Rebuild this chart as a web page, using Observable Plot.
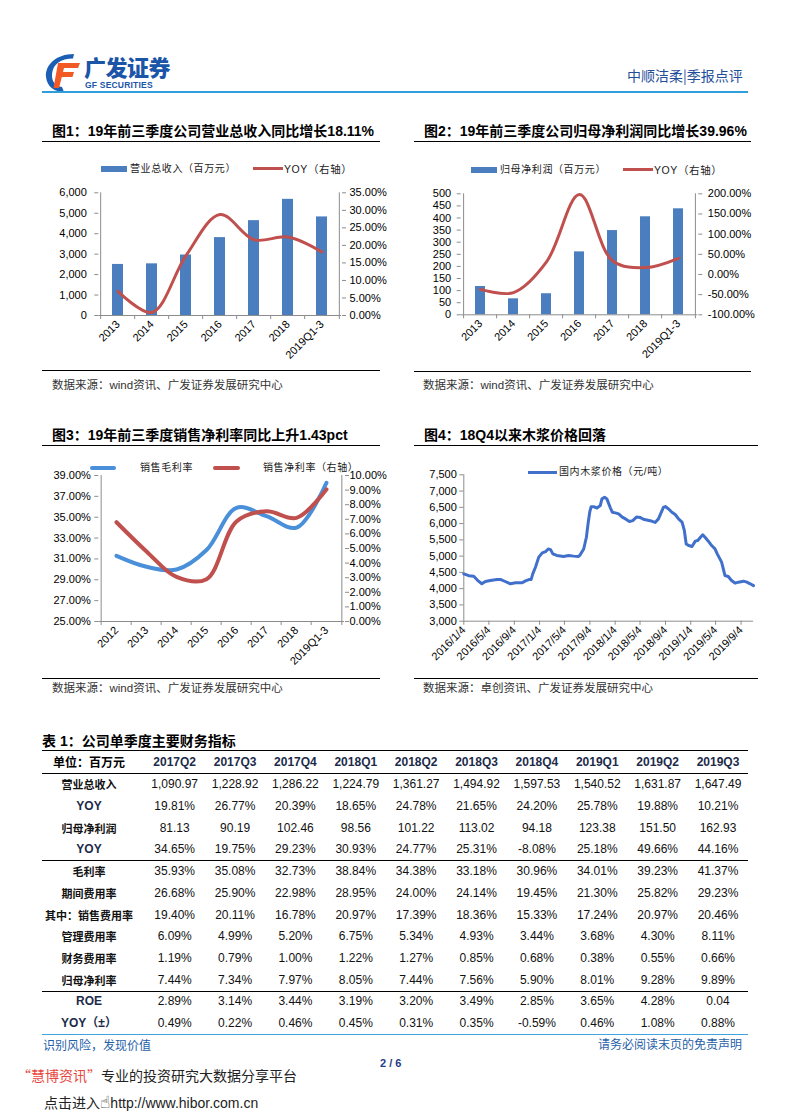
<!DOCTYPE html>
<html><head><meta charset="utf-8">
<script src="https://cdn.jsdelivr.net/npm/d3@7"></script>
<script src="https://cdn.jsdelivr.net/npm/@observablehq/plot@0.6"></script>
<style>
body{margin:0;background:#fff;}
#page{position:relative;width:792px;height:1120px;overflow:hidden;background:#fff;font-family:"Liberation Sans","Noto Sans CJK SC",sans-serif;}
.abs{position:absolute;white-space:nowrap;}
.ttl{font-size:14px;font-weight:bold;color:#000;line-height:16px;font-family:"Liberation Sans","Noto Sans CJK SC",sans-serif;}
.hr{position:absolute;height:0;border-top:1.3px solid #000;}
.src{font-size:11.5px;color:#333;line-height:14px;font-family:"Liberation Sans","Noto Sans CJK SC",sans-serif;}
.lg{font-size:10px;color:#222;line-height:12px;letter-spacing:0.6px;font-family:"Liberation Sans","Noto Sans CJK SC",sans-serif;}
.cell{position:absolute;white-space:nowrap;text-align:center;font-size:12px;line-height:20px;height:20px;color:#111;font-family:"Liberation Sans",Arial,sans-serif;}
.lab{font-weight:bold;font-size:11px;font-family:"Noto Sans CJK SC",sans-serif;color:#111;}
.latinlab{font-weight:bold;font-size:12px;color:#1c2b4a;font-family:"Liberation Sans","Noto Sans CJK SC",sans-serif;}
.hd{font-weight:bold;color:#1c2b4a;}
</style>
</head><body>
<div id="page"></div>
<script>
// ---------------- DATA ----------------
const years1 = ["2013","2014","2015","2016","2017","2018","2019Q1-3"];
const revenue = [2497, 2526, 2958, 3809, 4638, 5680, 4820];
const revenueYoy = [6.9, 0.9, 17.1, 28.8, 21.6, 22.4, 18.11];
const revTicks = [0, 1000, 2000, 3000, 4000, 5000, 6000];
const revYoyTicks = [0, 5, 10, 15, 20, 25, 30, 35];

const profit = [117, 66, 87, 260, 348, 405, 438];
const profitYoy = [-37, -45, 31, 198, 34, 17, 40];
const profitTicks = [0, 50, 100, 150, 200, 250, 300, 350, 400, 450, 500];
const profitYoyTicks = [-100, -50, 0, 50, 100, 150, 200];

const years3 = ["2012","2013","2014","2015","2016","2017","2018","2019Q1-3"];
const grossMargin = [31.3, 30.25, 29.98, 31.85, 35.9, 35.1, 34.0, 38.3];
const netMargin = [6.8, 4.8, 3.05, 2.9, 6.85, 7.55, 7.1, 9.05];
const gmTicks = [25, 27, 29, 31, 33, 35, 37, 39];
const nmTicks = [0, 1, 2, 3, 4, 5, 6, 7, 8, 9, 10];

const pulpDates = ["2016-01-04","2016-01-28","2016-02-21","2016-03-15","2016-03-31","2016-04-17","2016-05-11","2016-06-12","2016-07-01","2016-07-22","2016-08-16","2016-09-10","2016-10-12","2016-10-28","2016-11-13","2016-11-24","2016-12-02","2016-12-15","2016-12-31",
"2017-01-17","2017-02-02","2017-02-15","2017-02-26","2017-03-09","2017-03-28","2017-04-30","2017-05-24","2017-06-17","2017-07-11","2017-07-19","2017-08-05","2017-08-18","2017-08-26","2017-09-03","2017-09-10","2017-09-22","2017-10-08","2017-10-24","2017-11-01","2017-11-14","2017-11-25","2017-12-12","2017-12-21",
"2018-01-05","2018-01-21","2018-02-07","2018-02-23","2018-03-14","2018-03-30","2018-04-18","2018-05-04","2018-05-20","2018-06-22","2018-07-16","2018-08-01","2018-08-25","2018-09-03","2018-09-19","2018-10-05","2018-10-21","2018-11-06","2018-11-23","2018-12-04","2018-12-13","2018-12-25",
"2019-01-10","2019-01-26","2019-02-07","2019-02-20","2019-03-03","2019-03-14","2019-03-30","2019-04-15","2019-05-01","2019-05-12","2019-06-02","2019-06-18","2019-07-04","2019-07-20","2019-08-06","2019-08-22","2019-09-16","2019-10-02","2019-10-18","2019-11-03"];
const pulpPrice = [4455,4400,4380,4230,4150,4220,4250,4280,4280,4220,4150,4180,4180,4240,4280,4280,4455,4660,4970,
5100,5140,5220,5200,5070,5020,4990,5020,5000,4990,5040,5220,5580,5990,6350,6520,6520,6480,6555,6760,6810,6760,6480,6350,
6330,6300,6200,6145,6065,6090,6205,6190,6135,6090,6035,6145,6500,6525,6450,6350,6280,6145,6045,5790,5375,5325,
5295,5460,5480,5580,5655,5580,5460,5325,5225,5070,4815,4405,4375,4250,4170,4200,4230,4200,4150,4095];
const pulpTicks = ["2016-01-04","2016-05-04","2016-09-04","2017-01-04","2017-05-04","2017-09-04","2018-01-04","2018-05-04","2018-09-04","2019-01-04","2019-05-04","2019-09-04"];
const pulpDomain = ["2016-01-04","2019-11-03"];
const pulpYTicks = [3000,3500,4000,4500,5000,5500,6000,6500,7000,7500];

const tableCols = ["2017Q2","2017Q3","2017Q4","2018Q1","2018Q2","2018Q3","2018Q4","2019Q1","2019Q2","2019Q3"];
const rowLabels = ["营业总收入","YOY","归母净利润","YOY","毛利率","期间费用率","其中：销售费用率","管理费用率","财务费用率","归母净利率","ROE","YOY（±）"];
const rowValues = [
 ["1,090.97","1,228.92","1,286.22","1,224.79","1,361.27","1,494.92","1,597.53","1,540.52","1,631.87","1,647.49"],
 ["19.81%","26.77%","20.39%","18.65%","24.78%","21.65%","24.20%","25.78%","19.88%","10.21%"],
 ["81.13","90.19","102.46","98.56","101.22","113.02","94.18","123.38","151.50","162.93"],
 ["34.65%","19.75%","29.23%","30.93%","24.77%","25.31%","-8.08%","25.18%","49.66%","44.16%"],
 ["35.93%","35.08%","32.73%","38.84%","34.38%","33.18%","30.96%","34.01%","39.23%","41.37%"],
 ["26.68%","25.90%","22.98%","28.95%","24.00%","24.14%","19.45%","21.30%","25.82%","29.23%"],
 ["19.40%","20.11%","16.78%","20.97%","17.39%","18.36%","15.33%","17.24%","20.97%","20.46%"],
 ["6.09%","4.99%","5.20%","6.75%","5.34%","4.93%","3.44%","3.68%","4.30%","8.11%"],
 ["1.19%","0.79%","1.00%","1.22%","1.27%","0.85%","0.68%","0.38%","0.55%","0.66%"],
 ["7.44%","7.34%","7.97%","8.05%","7.44%","7.56%","5.90%","8.01%","9.28%","9.89%"],
 ["2.89%","3.14%","3.44%","3.19%","3.20%","3.49%","2.85%","3.65%","4.28%","0.04"],
 ["0.49%","0.22%","0.46%","0.45%","0.31%","0.35%","-0.59%","0.46%","1.08%","0.88%"]
];

// ---------------- HELPERS ----------------
const page = document.getElementById("page");
function el(html, css, cls) {
  const d = document.createElement("div");
  d.className = "abs " + (cls || "");
  d.innerHTML = html;
  Object.assign(d.style, css);
  page.appendChild(d);
  return d;
}
function place(node, left, top) {
  const d = el("", {left: left + "px", top: top + "px"});
  d.appendChild(node);
}
const axisColor = "#8c8c8c";
const barColor = "#4a7ebf";
const redColor = "#c0504d";
const plotStyle = {fontFamily: "'Liberation Sans', Arial, sans-serif", fontSize: "11px", color: "#000", background: "transparent", overflow: "visible"};
const pct = v => v.toFixed(2) + "%";

function comboChart(o) {
  const n = o.cats.length;
  const step = (o.width - o.ml - o.mr) / n;
  const [l0, l1] = o.yDomain, [r0, r1] = o.rDomain;
  const toL = v => l0 + (v - r0) * (l1 - l0) / (r1 - r0);
  const fromL = v => r0 + (v - l0) * (r1 - r0) / (l1 - l0);
  const barData = o.cats.map((c, i) => ({c, v: o.bars[i]}));
  const lineData = o.cats.map((c, i) => ({c, v: toL(o.line[i])}));
  const pi = 1 - o.barFrac;
  return Plot.plot({
    width: o.width, height: o.height, marginLeft: o.ml, marginRight: o.mr, marginTop: o.mt, marginBottom: o.mb,
    style: plotStyle,
    x: {type: "band", domain: o.cats, paddingInner: pi, paddingOuter: pi / 2},
    y: {domain: o.yDomain},
    marks: [
      Plot.barY(barData, {x: "c", y: "v", fill: barColor}),
      Plot.ruleY([l0], {stroke: axisColor}),
      Plot.ruleX([o.cats[0]], {x: d => d, dx: -step / 2, stroke: axisColor}),
      Plot.ruleX([o.cats[n - 1]], {x: d => d, dx: step / 2, stroke: axisColor}),
      Plot.ruleX(o.cats, {x: d => d, y1: l0, y2: l0, insetBottom: -4, dx: -step / 2, stroke: axisColor}),
      Plot.ruleX([o.cats[n - 1]], {x: d => d, y1: l0, y2: l0, insetBottom: -4, dx: step / 2, stroke: axisColor}),
      Plot.line(lineData, {x: "c", y: "v", stroke: redColor, strokeWidth: 3, curve: "catmull-rom"}),
      Plot.axisY(o.yTicks, {anchor: "left", tickSize: 4, tickPadding: o.lPad, tickFormat: o.yFmt, label: null, stroke: axisColor}),
      Plot.axisY(o.rTicks.map(toL), {anchor: "right", tickSize: 4, tickPadding: o.rPad, tickFormat: v => o.rFmt(fromL(v)), label: null, stroke: axisColor}),
      Plot.axisX({tickRotate: -45, tickSize: 0, tickPadding: 7, label: null})
    ]
  });
}

// ---------------- HEADER ----------------
el(`<svg width="40" height="42" viewBox="0 0 40 42">
  <path d="M31 2 C 13 2, 2 13, 3 25 C 4 35, 12 40, 21 40 L 19 35 C 12 34, 8.5 29, 9 22 C 10 12, 18 6.5, 30 6.5 Z" fill="#1b5fb5"/>
  <path d="M15 11 H 37 L 35 16 H 21 L 20 20 H 31 L 29.5 25 H 18.8 L 16 36 H 10.5 Z" fill="#f15a24"/>
</svg>`, {left: "43px", top: "52px"});
el("广发证券", {left: "84px", top: "53px", fontSize: "22px", fontWeight: "900", color: "#1b55a8", letterSpacing: "-0.5px", fontFamily: "'Noto Sans CJK SC'", lineHeight: "26px"});
el("GF SECURITIES", {left: "85px", top: "80px", fontSize: "8.5px", fontWeight: "bold", color: "#1b55a8", fontFamily: "'Liberation Sans'", lineHeight: "10px", letterSpacing: "0.2px"});
el("中顺洁柔|季报点评", {left: "627px", top: "66px", fontSize: "14px", color: "#1f4e9a", fontFamily: "'Noto Sans CJK SC'", lineHeight: "18px"});
el("", {left: "42px", top: "90.5px", width: "706px", height: "2px", background: "#2f9fdb"});

// ---------------- TITLES / SOURCES ----------------
el("图1：19年前三季度公司营业总收入同比增长18.11%", {left: "52px", top: "123px"}, "ttl");
el("", {left: "42px", top: "140.5px", width: "338px"}, "hr");
el("图2：19年前三季度公司归母净利润同比增长39.96%", {left: "424px", top: "123px"}, "ttl");
el("", {left: "414px", top: "140.5px", width: "337px"}, "hr");
el("", {left: "42px", top: "370px", width: "338px"}, "hr");
el("", {left: "414px", top: "370.5px", width: "337px"}, "hr");
el("数据来源：wind资讯、广发证券发展研究中心", {left: "52px", top: "378px"}, "src");
el("数据来源：wind资讯、广发证券发展研究中心", {left: "423px", top: "378px"}, "src");

el("图3：19年前三季度销售净利率同比上升1.43pct", {left: "52px", top: "427px"}, "ttl");
el("", {left: "42px", top: "444.5px", width: "338px"}, "hr");
el("图4：18Q4以来木浆价格回落", {left: "424px", top: "427px"}, "ttl");
el("", {left: "414px", top: "444.5px", width: "344px"}, "hr");
el("", {left: "42px", top: "678px", width: "338px"}, "hr");
el("", {left: "414px", top: "678px", width: "344px"}, "hr");
el("数据来源：wind资讯、广发证券发展研究中心", {left: "52px", top: "681px"}, "src");
el("数据来源：卓创资讯、广发证券发展研究中心", {left: "423px", top: "681px"}, "src");

// ---------------- LEGENDS ----------------
el("", {left: "101px", top: "165.5px", width: "26px", height: "6px", background: barColor});
el("营业总收入（百万元）", {left: "130px", top: "162.5px"}, "lg");
el("", {left: "253px", top: "167px", width: "30px", height: "3px", background: redColor});
el("YOY（右轴）", {left: "284px", top: "162.5px", fontSize: "10.5px"}, "lg");

el("", {left: "471px", top: "166.5px", width: "26px", height: "6px", background: barColor});
el("归母净利润（百万元）", {left: "500px", top: "163.5px"}, "lg");
el("", {left: "623px", top: "168px", width: "30px", height: "3px", background: redColor});
el("YOY（右轴）", {left: "654px", top: "163.5px", fontSize: "10.5px"}, "lg");

el("", {left: "90px", top: "466px", width: "26px", height: "4px", background: "#4a8fd9", borderRadius: "2px"});
el("销售毛利率", {left: "140px", top: "462px"}, "lg");
el("", {left: "213px", top: "466px", width: "27px", height: "4px", background: redColor, borderRadius: "2px"});
el("销售净利率（右轴）", {left: "263px", top: "462px"}, "lg");

el("", {left: "528px", top: "470.5px", width: "29px", height: "3px", background: "#4170cc"});
el("国内木浆价格（元/吨）", {left: "559px", top: "466px"}, "lg");

// ---------------- CHART 1 ----------------
place(comboChart({
  cats: years1, bars: revenue, line: revenueYoy,
  yDomain: [0, 6000], rDomain: [0, 35], yTicks: revTicks, rTicks: revYoyTicks,
  yFmt: d3.format(","), rFmt: pct,
  width: 350, height: 225, ml: 56.3, mr: 51, mt: 47.3, mb: 55, barFrac: 0.32, lPad: 8, rPad: 4
}), 42, 145);

// ---------------- CHART 2 ----------------
place(comboChart({
  cats: years1, bars: profit, line: profitYoy,
  yDomain: [0, 500], rDomain: [-100, 200], yTicks: profitTicks, rTicks: profitYoyTicks,
  yFmt: d3.format(","), rFmt: pct,
  width: 345, height: 224.3, ml: 47.7, mr: 60.7, mt: 48.3, mb: 55, barFrac: 0.3, lPad: 6, rPad: 6
}), 413, 145);

// ---------------- CHART 3 ----------------
(function () {
  const width = 345, height = 226, ml = 56.3, mr = 43, mt = 30, mb = 50;
  const n = years3.length, step = (width - ml - mr) / n;
  const toL = v => 25 + v * (39 - 25) / 10;
  const fromL = v => (v - 25) * 10 / (39 - 25);
  const gm = years3.map((c, i) => ({c, v: grossMargin[i]}));
  const nm = years3.map((c, i) => ({c, v: toL(netMargin[i])}));
  place(Plot.plot({
    width, height, marginLeft: ml, marginRight: mr, marginTop: mt, marginBottom: mb, style: plotStyle,
    x: {type: "band", domain: years3, padding: 0},
    y: {domain: [25, 39]},
    marks: [
      Plot.ruleY([25], {stroke: axisColor}),
      Plot.ruleX([years3[0]], {x: d => d, dx: -step / 2, stroke: axisColor}),
      Plot.ruleX([years3[n - 1]], {x: d => d, dx: step / 2, stroke: axisColor}),
      Plot.ruleX(years3, {x: d => d, y1: 25, y2: 25, insetBottom: -4, dx: -step / 2, stroke: axisColor}),
      Plot.ruleX([years3[n - 1]], {x: d => d, y1: 25, y2: 25, insetBottom: -4, dx: step / 2, stroke: axisColor}),
      Plot.line(gm, {x: "c", y: "v", stroke: "#4a8fd9", strokeWidth: 4, curve: "catmull-rom"}),
      Plot.line(nm, {x: "c", y: "v", stroke: redColor, strokeWidth: 4, curve: "catmull-rom"}),
      Plot.axisY(gmTicks, {anchor: "left", tickSize: 4, tickPadding: 4, tickFormat: pct, label: null, stroke: axisColor}),
      Plot.axisY(nmTicks.map(toL), {anchor: "right", tickSize: 4, tickPadding: 1, tickFormat: v => pct(fromL(v)), label: null, stroke: axisColor}),
      Plot.axisX({tickRotate: -45, tickSize: 0, tickPadding: 7, label: null})
    ]
  }), 42, 445);
})();

// ---------------- CHART 4 ----------------
(function () {
  const data = pulpDates.map((d, i) => ({date: new Date(d), price: pulpPrice[i]}));
  const dom = pulpDomain.map(d => new Date(d));
  place(Plot.plot({
    width: 345, height: 225.7, marginLeft: 50.3, marginRight: 5, marginTop: 29.3, marginBottom: 50, style: plotStyle,
    x: {type: "utc", domain: dom},
    y: {domain: [3000, 7500]},
    marks: [
      Plot.ruleY([3000], {stroke: axisColor}),
      Plot.ruleX([dom[0]], {stroke: axisColor}),
      Plot.line(data, {x: "date", y: "price", stroke: "#4170cc", strokeWidth: 3, curve: "linear"}),
      Plot.axisY(pulpYTicks, {anchor: "left", tickSize: 4, tickPadding: 3, tickFormat: d3.format(","), label: null, stroke: axisColor}),
      Plot.axisX(pulpTicks.map(d => new Date(d)), {tickRotate: -45, tickSize: 4, tickPadding: 3, tickFormat: d3.utcFormat("%Y/%-m/%-d"), label: null, stroke: axisColor})
    ]
  }), 413, 445);
})();

// ---------------- TABLE ----------------
el("表 1：公司单季度主要财务指标", {left: "42px", top: "733px"}, "ttl");
el("", {left: "42px", top: "750px", width: "706px", borderTopWidth: "1.5px"}, "hr");
el("单位：百万元", {left: "53px", top: "752px", fontSize: "12px", fontWeight: "bold", lineHeight: "20px", fontFamily: "'Noto Sans CJK SC'"});
const colX = i => 174.7 + 60.37 * i;
tableCols.forEach((c, i) => el(c, {left: (colX(i) - 30) + "px", top: "752px", width: "60px", fontWeight: "bold"}, "cell hd"));
el("", {left: "42px", top: "773px", width: "706px"}, "hr");
rowLabels.forEach((lab, r) => {
  const cy = 784.3 + 21.7 * r;
  const latin = /^[A-Z]/.test(lab);
  el(lab, {left: "29px", top: (cy - 10) + "px", width: "120px"}, "cell " + (latin ? "latinlab" : "lab"));
  rowValues[r].forEach((v, i) => el(v, {left: (colX(i) - 30) + "px", top: (cy - 10) + "px", width: "60px"}, "cell"));
});
el("", {left: "42px", top: "860.2px", width: "706px"}, "hr");
el("", {left: "42px", top: "990.8px", width: "706px"}, "hr");
el("", {left: "42px", top: "1033.5px", width: "706px", height: "1.5px", background: "#3fa3de"});

// ---------------- FOOTER ----------------
el("识别风险，发现价值", {left: "43px", top: "1037px", fontSize: "12px", color: "#1f5fa8", fontFamily: "'Noto Sans CJK SC'", lineHeight: "16px"});
el("请务必阅读末页的免责声明", {left: "598px", top: "1036px", fontSize: "12px", color: "#1f5fa8", fontFamily: "'Noto Sans CJK SC'", lineHeight: "16px"});
el("2 / 6", {left: "380px", top: "1056px", fontSize: "11px", fontWeight: "bold", color: "#1f3c88", lineHeight: "14px"});
el('<span style="color:#e8453c">“慧博资讯”</span>专业的投资研究大数据分享平台', {left: "17px", top: "1066px", fontSize: "14px", color: "#222", fontFamily: "'Noto Sans CJK SC'", lineHeight: "18px"});
el('点击进入<span style="font-family:\'DejaVu Sans\';font-size:17px">☝</span>http://www.hibor.com.cn', {left: "44px", top: "1092px", fontSize: "14px", color: "#222", fontFamily: "'Liberation Sans','Noto Sans CJK SC'", lineHeight: "20px"});
</script>
</body></html>
